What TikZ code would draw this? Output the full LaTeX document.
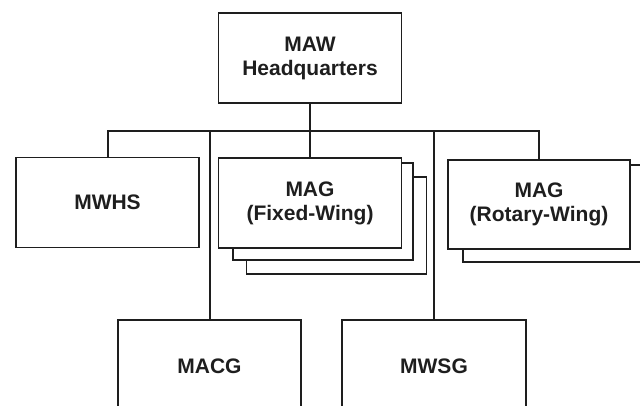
\documentclass[tikz,border=0pt]{standalone}
\usepackage{fontspec}
\setmainfont{Liberation Sans}
\usepackage{tikz}
\usetikzlibrary{positioning,calc}
\definecolor{ink}{HTML}{1E1E1E}

\begin{document}
\begin{tikzpicture}[x=1pt,y=-1pt,every node/.style={font=\fontsize{21}{24}\selectfont\bfseries,text=ink},unit/.style={draw=ink,line width=1.7pt,fill=white,align=center,inner sep=0pt,minimum width=183pt,minimum height=90pt},copy/.style={unit,minimum height=97pt,minimum width=180pt},link/.style={draw=ink,line width=2pt}]
\useasboundingbox (0,0) rectangle (640,406);
\clip (0,0) rectangle (640,406);
\coordinate (bus) at (0,131);
\node[unit] (hq) at (310,58) {MAW\\Headquarters};
\node[unit] (mwhs) at (107.5,202.5) {MWHS};
\node[copy] (magfc) at (336.5,225.5) {};
\node[copy] (magfb) at (323,211.5) {};
\node[unit] (magf) at (310,203) {MAG\\(Fixed-Wing)};
\node[copy,minimum width=182pt] (magrb) at (554,213.5) {};
\node[unit,minimum width=182pt,minimum height=89pt] (magr) at (539,204.5) {MAG\\(Rotary-Wing)};
\node[unit,minimum height=92pt] (macg) at (209.5,366) {MACG};
\node[unit,minimum height=92pt,minimum width=184pt] (mwsg) at (434,366) {MWSG};
\draw[link] (hq.south) -- (magf.north);
\draw[link] (mwhs.north) |- (bus -| magr.north) -- (magr.north);
\draw[link] (macg.north |- bus) -- (macg.north);
\draw[link] (mwsg.north |- bus) -- (mwsg.north);
\end{tikzpicture}
\end{document}
